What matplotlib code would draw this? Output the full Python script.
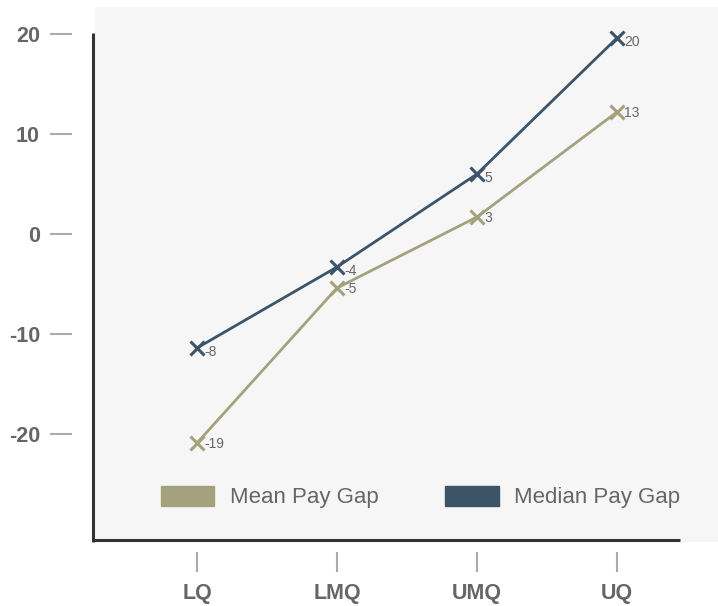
import matplotlib.pyplot as plt
from matplotlib.patches import Patch

plt.rcParams['font.family'] = ['Liberation Sans', 'DejaVu Sans']

#==============================================================================
# data
#==============================================================================
categories = ['LQ', 'LMQ', 'UMQ', 'UQ']
mean_gap = [-20.9, -5.4, 1.7, 12.2]
median_gap = [-11.4, -3.3, 6.0, 19.6]
mean_labels = ['-19', '-5', '3', '13']
median_labels = ['-8', '-4', '5', '20']
yticks = [-20, -10, 0, 10, 20]

mean_col = '#a3a27c'
median_col = '#3d5468'
txt_col = '#666666'

W, H = 718, 606
PT = 0.72  # points per pixel at dpi 100
fig = plt.figure(figsize=(W / 100, H / 100), dpi=100)
# axes box in pixels: left 95, right 718, top 7, bottom 542
ax = fig.add_axes([95 / W, 1 - 542 / H, (718 - 95) / W, (542 - 7) / H])
ax.set_facecolor('#f6f6f6')

x = list(range(len(categories)))
ax.plot(x, median_gap, color=median_col, lw=2.0, marker='x', ms=10, mew=2.2, zorder=3)
ax.plot(x, mean_gap, color=mean_col, lw=2.0, marker='x', ms=10, mew=2.2, zorder=3)
for xi, v, s in zip(x, median_gap, median_labels):
    ax.annotate(s, (xi, v), xytext=(5, -3), textcoords='offset points',
                ha='left', va='center', fontsize=10, color=txt_col)
for xi, v, s in zip(x, mean_gap, mean_labels):
    ax.annotate(s, (xi, v), xytext=(5, -1), textcoords='offset points',
                ha='left', va='center', fontsize=10, color=txt_col)

# 140 px per category, LQ at px 197; 10 units = 100 px, 0 at px 234
ax.set_xlim((95 - 197) / 140, (718 - 197) / 140)
ax.set_ylim(-(542 - 234) / 10, (234 - 7) / 10)

for s in ['top', 'right']:
    ax.spines[s].set_visible(False)
ax.spines['left'].set_position(('outward', 23 * PT))
ax.spines['left'].set_color('none')
ax.spines['bottom'].set_position(('outward', 10 * PT))
ax.spines['bottom'].set_color('none')

ax.set_yticks(yticks)
ax.set_yticklabels([str(t) for t in yticks])
ax.set_xticks(x)
ax.set_xticklabels(categories)
ax.tick_params(axis='y', length=22 * PT, width=1.5, color='#aaaaaa', pad=10 * PT,
               labelsize=15.5, labelcolor=txt_col)
ax.tick_params(axis='x', length=20 * PT, width=1.5, color='#aaaaaa', pad=11 * PT,
               labelsize=15.5, labelcolor=txt_col)
for lab in ax.get_xticklabels() + ax.get_yticklabels():
    lab.set_fontweight('bold')

# hand drawn axis lines
ax.plot([-2 / 623, -2 / 623], [0, (542 - 33) / 535], transform=ax.transAxes,
        color='#333333', lw=2.2, clip_on=False, solid_capstyle='butt')
ax.plot([-2 / 623, (680 - 95) / 623], [2 / 535, 2 / 535], transform=ax.transAxes,
        color='#333333', lw=2.2, clip_on=False, solid_capstyle='butt')

handles = [Patch(color=mean_col, label='Mean Pay Gap'),
           Patch(color=median_col, label='Median Pay Gap')]
fig.legend(handles=handles, loc='center left', ncol=2, frameon=False,
           bbox_to_anchor=(161 / W, 1 - 497 / H), fontsize=16, labelcolor=txt_col,
           handlelength=2.4, handleheight=1.05, handletextpad=0.7,
           columnspacing=3.0, borderpad=0, borderaxespad=0)

plt.savefig('out.png', dpi=100)
